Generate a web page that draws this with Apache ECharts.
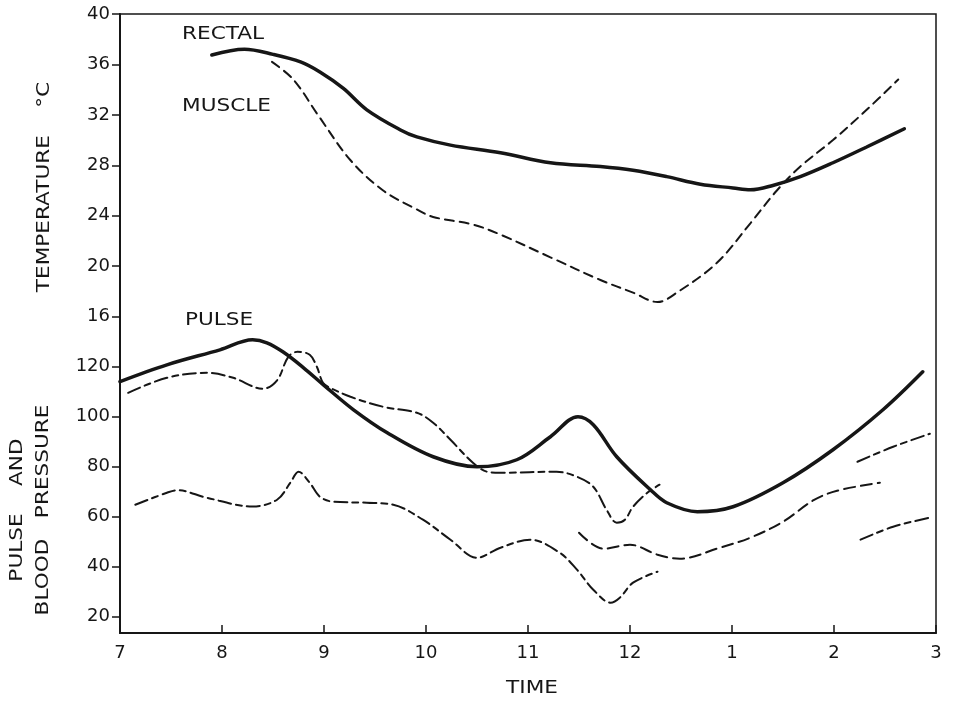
<!DOCTYPE html>
<html>
<head>
<meta charset="utf-8">
<script src="https://cdn.jsdelivr.net/npm/echarts@6/dist/echarts.min.js"></script>
<style>
  html, body { margin: 0; padding: 0; background: #fff; }
  #chart { width: 953px; height: 702px; }
</style>
</head>
<body>
<div id="chart"></div>
<script>
// time in hours (7 .. 15 = 7 am .. 3 pm)
var timeTicks = [7, 8, 9, 10, 11, 12, 13, 14, 15];
var tempTicks = [16, 20, 24, 28, 32, 36, 40];
var pulseTicks = [20, 40, 60, 80, 100, 120];

var rectal = [[7.90,36.75],[8.22,37.2],[8.5,36.8],[8.77,36.2],[8.96,35.4],[9.19,34.1],[9.42,32.4],[9.75,30.8],[9.91,30.25],[10.24,29.6],[10.73,29.0],[11.22,28.2],[11.71,27.9],[12.03,27.6],[12.36,27.1],[12.69,26.5],[13.01,26.2],[13.18,26.05],[13.40,26.4],[13.67,27.1],[13.99,28.2],[14.32,29.45],[14.69,30.9]];
var muscle = [[8.49,36.2],[8.70,34.8],[8.94,32.0],[9.26,28.4],[9.58,26.0],[9.91,24.5],[10.07,23.9],[10.46,23.3],[10.73,22.5],[11.22,20.7],[11.71,18.9],[12.03,17.9],[12.27,17.15],[12.46,17.9],[12.85,20.25],[13.18,23.4],[13.44,26.0],[13.67,27.9],[13.99,30.0],[14.32,32.4],[14.63,34.8]];
var pulse = [[7.0,114],[7.46,120.7],[7.98,126.7],[8.30,130.7],[8.44,129.5],[8.6,125.8],[8.8,119.5],[9.0,112.5],[9.29,102.7],[9.62,93.5],[10.07,83.9],[10.5,79.9],[10.89,82.7],[11.22,91.9],[11.49,99.9],[11.64,96.7],[11.87,83.9],[12.2,70.7],[12.36,65.5],[12.66,61.9],[13.01,63.9],[13.5,73.5],[13.99,86.7],[14.48,102.7],[14.87,117.9]];
var systolic = [[7.08,109.5],[7.46,115.5],[7.85,117.5],[8.11,115.5],[8.40,111.1],[8.54,114.5],[8.65,123.9],[8.74,125.9],[8.86,124.7],[8.93,119.9],[8.99,113.5],[9.06,111.5],[9.26,107.9],[9.58,103.9],[9.91,101.5],[10.07,97.5],[10.24,90.7],[10.46,81.5],[10.6,77.9],[10.73,77.5],[11.28,77.9],[11.48,75.9],[11.64,71.9],[11.77,62.7],[11.87,57.5],[11.95,58.7],[12.03,63.9],[12.17,69.5],[12.29,72.7]];
var diastolic = [[7.15,64.7],[7.46,69.5],[7.56,70.5],[7.85,67.5],[8.30,64.0],[8.54,66.7],[8.67,73.5],[8.75,77.9],[8.86,73.5],[8.96,67.9],[9.09,65.9],[9.42,65.5],[9.68,64.7],[9.97,58.7],[10.24,50.7],[10.5,43.5],[10.73,47.5],[11.02,50.7],[11.31,45.5],[11.48,38.7],[11.64,30.7],[11.81,25.5],[11.9,27.5],[12.03,33.5],[12.27,37.9]];
var pressureLate = [[11.5,53.5],[11.74,47.1],[12.0,48.7],[12.27,44.7],[12.49,43.1],[12.88,47.5],[13.18,51.5],[13.5,57.9],[13.8,66.5],[14.03,70.3],[14.45,73.5]];
var systolicEnd = [[14.23,81.9],[14.58,87.9],[14.94,93.1]];
var diastolicEnd = [[14.26,50.7],[14.58,55.9],[14.94,59.5]];

var ink = '#161616';
var font = 'DejaVu Sans';

var chart = echarts.init(document.getElementById('chart'));

function line(name, data, axis, width, dash) {
    return {
        name: name,
        type: 'line',
        yAxisIndex: axis,
        data: data,
        smooth: 0.35,
        showSymbol: false,
        lineStyle: { color: ink, width: width, type: dash || 'solid', cap: 'round' }
    };
}

function label(text, x, y, opts) {
    opts = opts || {};
    return {
        type: 'text', x: x, y: y, rotation: opts.rotation || 0, scaleX: 1.2,
        style: {
            text: text, fill: ink, font: (opts.size || 18) + 'px "DejaVu Sans"',
            align: opts.align || 'left', verticalAlign: 'middle', lineHeight: 26
        }
    };
}

var option = {
    animation: false,
    backgroundColor: '#fff',
    grid: {
        left: 120, right: 17, top: 14, bottom: 69,
        show: true, borderColor: ink, borderWidth: 1.5
    },
    xAxis: {
        type: 'value', min: 7, max: 15, interval: 1,
        axisLine: { onZero: false, lineStyle: { color: ink, width: 2 } },
        axisTick: { inside: true, length: 8, lineStyle: { color: ink, width: 1.5 } },
        axisLabel: {
            margin: 11, color: ink, fontFamily: font, fontSize: 18,
            formatter: function (v) { return v > 12 ? String(v - 12) : String(v); }
        },
        splitLine: { show: false }
    },
    yAxis: [
        {
            type: 'value', min: -9.1, max: 40, position: 'left',
            axisLine: { show: true, onZero: false, lineStyle: { color: ink, width: 2 } },
            axisTick: { length: 8, customValues: tempTicks, lineStyle: { color: ink, width: 1.5 } },
            axisLabel: { margin: 10, customValues: tempTicks, color: ink, fontFamily: font, fontSize: 18 },
            splitLine: { show: false }
        },
        {
            type: 'value', min: 13.36, max: 261.1, position: 'left',
            axisLine: { show: false, onZero: false },
            axisTick: { show: true, length: 8, customValues: pulseTicks, lineStyle: { color: ink, width: 1.5 } },
            axisLabel: { margin: 10, customValues: pulseTicks, color: ink, fontFamily: font, fontSize: 18 },
            splitLine: { show: false }
        }
    ],
    series: [
        line('Rectal', rectal, 0, 3.5),
        line('Muscle', muscle, 0, 2, [9, 6]),
        line('Pulse', pulse, 1, 3.5),
        line('Systolic', systolic, 1, 2, [13, 5, 6, 5]),
        line('Diastolic', diastolic, 1, 2, [13, 5, 6, 5]),
        line('Pressure', pressureLate, 1, 2, [11, 6]),
        line('Systolic late', systolicEnd, 1, 2, [13, 5, 6, 5]),
        line('Diastolic late', diastolicEnd, 1, 2, [13, 5, 6, 5])
    ],
    graphic: [
        label('RECTAL', 182, 34),
        label('MUSCLE', 182, 106),
        label('PULSE', 185, 320),
        label('TIME', 532, 688, { align: 'center' }),
        label('TEMPERATURE    °C', 44, 187, { rotation: Math.PI / 2, align: 'center', size: 18 }),
        label('PULSE    AND\nBLOOD   PRESSURE', 30, 510, { rotation: Math.PI / 2, align: 'center', size: 18 })
    ]
};

chart.setOption(option);
</script>
</body>
</html>
